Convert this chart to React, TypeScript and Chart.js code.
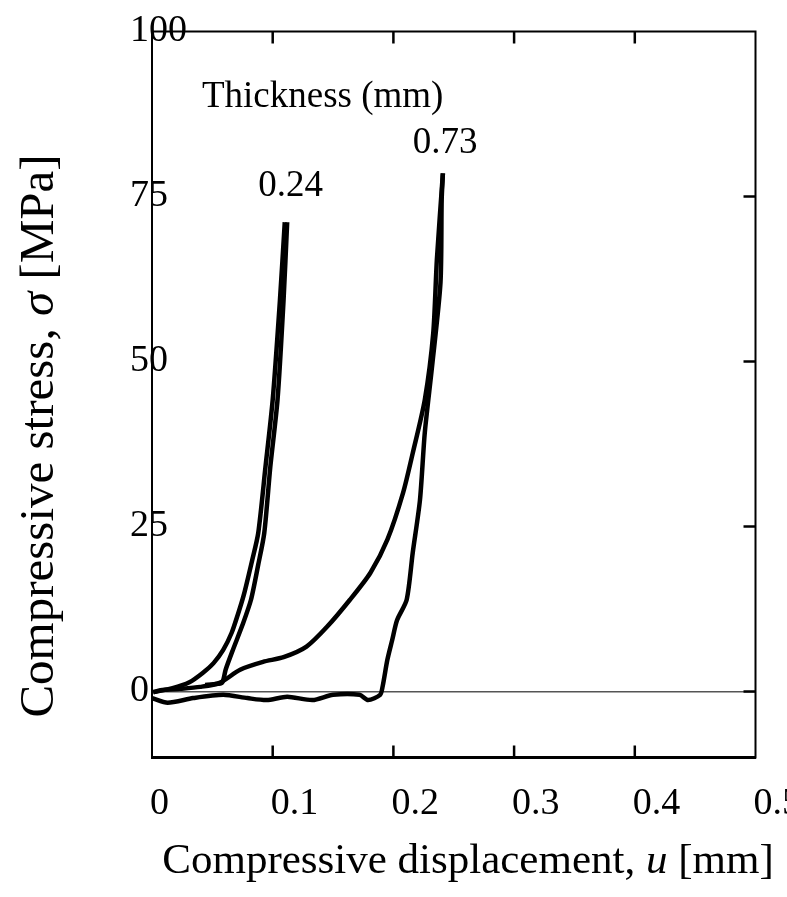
import React, { useEffect, useRef } from 'react';
import { Chart, registerables } from 'chart.js';

Chart.register(...registerables);

// ---- axis ticks ----
const xTickValues = [0, 0.1, 0.2, 0.3, 0.4, 0.5];
const xTickLabels = ['0', '0.1', '0.2', '0.3', '0.4', '0.5'];
const yTickValues = [0, 25, 50, 75, 100];
const yTickLabels = ['0', '25', '50', '75', '100'];

// ---- thickness 0.24 mm ----
const t024LoadX = [0.001, 0.017, 0.031, 0.042, 0.051, 0.059, 0.066, 0.071, 0.076, 0.083, 0.088, 0.094, 0.1, 0.106, 0.11];
const t024LoadY = [-0.1, 0.5, 1.4, 2.8, 4.3, 6.3, 8.9, 11.6, 14.6, 19.9, 24.0, 34.0, 44.2, 59.3, 71.1];
const t024UnloadX = [0.112, 0.109, 0.104, 0.098, 0.093, 0.088, 0.082, 0.075, 0.067, 0.061, 0.058, 0.051, 0.044];
const t024UnloadY = [71.1, 59.3, 44.2, 34.0, 24.0, 19.2, 13.9, 10.1, 6.3, 3.3, 1.3, 1.1, 1.0];

// ---- thickness 0.73 mm ----
const t073LoadX = [0.0, 0.013, 0.034, 0.059, 0.079, 0.095, 0.112, 0.133, 0.15, 0.172, 0.179, 0.189, 0.191, 0.195, 0.199, 0.203, 0.211, 0.216, 0.222, 0.226, 0.232, 0.239, 0.24, 0.241];
const t073LoadY = [-1.0, -1.7, -1.0, -0.5, -1.0, -1.3, -0.8, -1.3, -0.5, -0.5, -1.3, -0.5, 0.7, 4.8, 7.8, 10.8, 13.9, 21.0, 29.0, 39.2, 49.2, 61.9, 74.5, 78.5];
const t073UnloadX = [0.241, 0.236, 0.233, 0.226, 0.216, 0.208, 0.195, 0.181, 0.164, 0.145, 0.128, 0.109, 0.092, 0.073, 0.056, 0.04, 0.023, 0.007, 0.001];
const t073UnloadY = [78.5, 65.4, 54.3, 44.2, 36.1, 30.1, 23.0, 18.0, 13.9, 9.8, 6.8, 5.2, 4.5, 3.3, 1.3, 0.7, 0.4, 0.2, -0.1];

const pts = (xs: number[], ys: number[]) => xs.map((x, i) => ({ x, y: ys[i] }));

const SERIF = '"Liberation Serif", "Times New Roman", Times, serif';
const TICK_SIZE = 38;
const NOTE_SIZE = 37;
const XTITLE_SIZE = 43;
const YTITLE_SIZE = 49;

type Part = { text: string; italic?: boolean };

function drawRich(ctx: CanvasRenderingContext2D, parts: Part[], size: number, cx: number, cy: number, rotate: number) {
  ctx.save();
  ctx.translate(cx, cy);
  ctx.rotate(rotate);
  ctx.textBaseline = 'middle';
  ctx.textAlign = 'left';
  ctx.fillStyle = '#000';
  let total = 0;
  const widths = parts.map((p) => {
    ctx.font = `${p.italic ? 'italic ' : ''}${size}px ${SERIF}`;
    const w = ctx.measureText(p.text).width;
    total += w;
    return w;
  });
  let x = -total / 2;
  parts.forEach((p, i) => {
    ctx.font = `${p.italic ? 'italic ' : ''}${size}px ${SERIF}`;
    ctx.fillText(p.text, x, 0);
    x += widths[i];
  });
  ctx.restore();
}

const framePlugin = {
  id: 'frameAndText',
  afterDraw(chart: any) {
    const { ctx, chartArea, scales } = chart;
    const xs = scales.x;
    const ys = scales.y;
    const { left, right, top, bottom } = chartArea;
    ctx.save();
    ctx.strokeStyle = '#000';
    ctx.lineCap = 'square';
    // top and right frame
    ctx.lineWidth = 2;
    ctx.beginPath();
    ctx.moveTo(left, top);
    ctx.lineTo(right, top);
    ctx.lineTo(right, bottom);
    ctx.stroke();
    // inner tick marks
    ctx.lineCap = 'butt';
    ctx.lineWidth = 2.5;
    const tl = 12;
    xTickValues.forEach((v) => {
      const px = xs.getPixelForValue(v);
      if (px <= left + 1 || px >= right - 1) return;
      ctx.beginPath();
      ctx.moveTo(px, bottom);
      ctx.lineTo(px, bottom - tl);
      ctx.moveTo(px, top);
      ctx.lineTo(px, top + tl);
      ctx.stroke();
    });
    yTickValues.forEach((v) => {
      const py = ys.getPixelForValue(v);
      if (py <= top + 1) return;
      ctx.beginPath();
      ctx.moveTo(right, py);
      ctx.lineTo(right - tl, py);
      ctx.stroke();
    });
    // tick labels
    ctx.fillStyle = '#000';
    ctx.font = `${TICK_SIZE}px ${SERIF}`;
    ctx.textBaseline = 'middle';
    ctx.textAlign = 'left';
    yTickValues.forEach((v, i) => {
      ctx.fillText(yTickLabels[i], left - 22, ys.getPixelForValue(v));
    });
    xTickValues.forEach((v, i) => {
      ctx.fillText(xTickLabels[i], xs.getPixelForValue(v) - 2, bottom + 47);
    });
    // annotations
    ctx.font = `${NOTE_SIZE}px ${SERIF}`;
    ctx.fillText('Thickness (mm)', xs.getPixelForValue(0.0414), ys.getPixelForValue(90.1));
    ctx.fillText('0.73', xs.getPixelForValue(0.216), ys.getPixelForValue(83.1));
    ctx.fillText('0.24', xs.getPixelForValue(0.088), ys.getPixelForValue(76.6));
    ctx.restore();
    // axis titles
    drawRich(ctx, [{ text: 'Compressive displacement, ' }, { text: 'u', italic: true }, { text: ' [mm]' }], XTITLE_SIZE, 468, 862, 0);
    drawRich(ctx, [{ text: 'Compressive stress, ' }, { text: 'σ', italic: true }, { text: ' [MPa]' }], YTITLE_SIZE, 40, 436, -Math.PI / 2);
  },
};

export default function App() {
  const ref = useRef<HTMLCanvasElement | null>(null);
  useEffect(() => {
    if (!ref.current) return;
    const lineStyle = {
      borderColor: '#000',
      borderWidth: 4.5,
      pointRadius: 0,
      showLine: true,
      tension: 0.25,
      fill: false,
    };
    const chart = new Chart(ref.current, {
      type: 'scatter',
      data: {
        datasets: [
          { label: '0.24 loading', data: pts(t024LoadX, t024LoadY), ...lineStyle },
          { label: '0.24 unloading', data: pts(t024UnloadX, t024UnloadY), ...lineStyle },
          { label: '0.73 loading', data: pts(t073LoadX, t073LoadY), ...lineStyle },
          { label: '0.73 unloading', data: pts(t073UnloadX, t073UnloadY), ...lineStyle },
        ],
      },
      options: {
        animation: false,
        responsive: true,
        maintainAspectRatio: false,
        layout: { padding: { left: 152, right: 31.5, top: 31.5, bottom: 139.5 } },
        plugins: { legend: { display: false }, tooltip: { enabled: false } },
        scales: {
          x: {
            type: 'linear',
            min: 0,
            max: 0.5,
            afterBuildTicks: (s: any) => {
              s.ticks = xTickValues.map((v) => ({ value: v }));
            },
            ticks: { display: false },
            grid: { display: false, drawTicks: false },
            border: { display: true, color: '#000', width: 3 },
          },
          y: {
            type: 'linear',
            min: -10,
            max: 100,
            afterBuildTicks: (s: any) => {
              s.ticks = yTickValues.map((v) => ({ value: v }));
            },
            ticks: { display: false },
            grid: {
              display: true,
              drawTicks: false,
              lineWidth: 1.5,
              color: (c: any) => (c.tick && c.tick.value === 0 ? '#555' : 'rgba(0,0,0,0)'),
            },
            border: { display: true, color: '#000', width: 2 },
          },
        },
      },
      plugins: [framePlugin],
    });
    return () => chart.destroy();
  }, []);
  return (
    <div style={{ position: 'absolute', left: 0, top: 0, width: 787, height: 897, background: '#fff' }}>
      <canvas ref={ref} />
    </div>
  );
}
